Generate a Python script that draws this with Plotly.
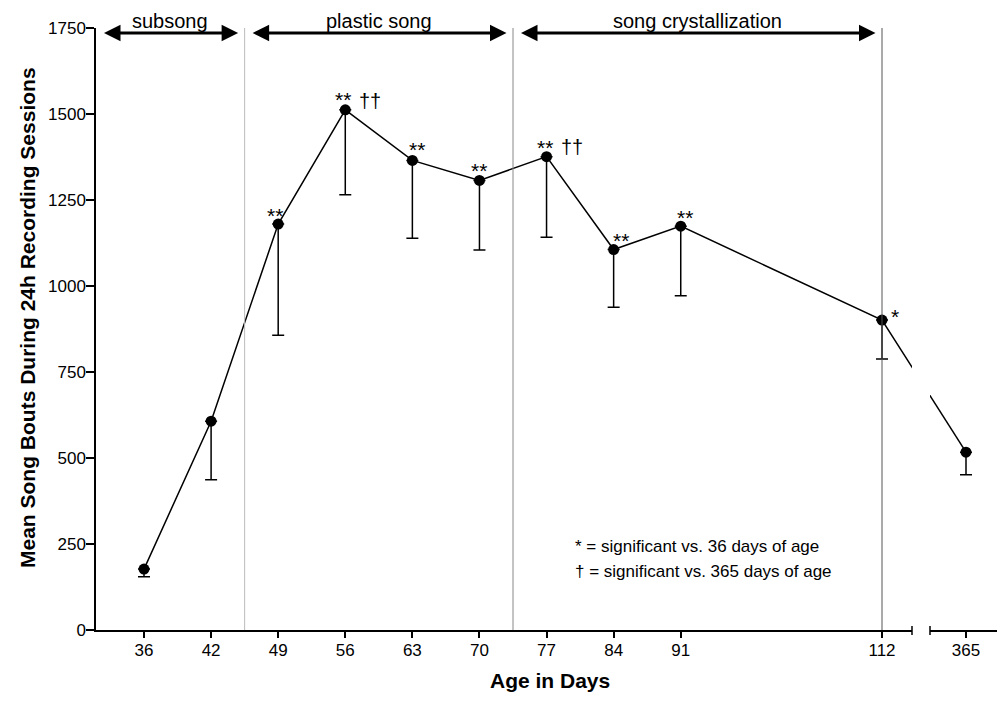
import plotly.graph_objects as go

# ---------------- data ----------------
age_days = ["36", "42", "49", "56", "63", "70", "77", "84", "91", "112", "365"]
age_weeks = [5, 6, 7, 8, 9, 10, 11, 12, 13, 16, 52]
mean_bouts = [177, 607, 1180, 1512, 1365, 1307, 1376, 1106, 1174, 901, 517]
sem_bouts = [22, 170, 323, 247, 226, 202, 234, 168, 202, 113, 66]
sig_vs_36 = ["", "", "**", "**", "**", "**", "**", "**", "**", "*", ""]
sig_vs_365 = ["", "", "", "††", "", "", "††", "", "", "", ""]
phase_names = ["subsong", "plastic song", "song crystallization"]
phase_bounds = [6.5, 10.5, 16]          # weeks where phases end
y_ticks = [0, 250, 500, 750, 1000, 1250, 1500, 1750]

# ---------------- layout constants ----------------
PLOT_L, PLOT_T = 96, 28                  # plot area position on the page
PW, PH = 901, 602
ML, MR, MT, MB = PLOT_L, 0, PLOT_T, 73
W, H = ML + PW + MR, MT + PH + MB
X1_RANGE = [4.2845, 16.447]
X2_RANGE = [51.4634, 52.4621]
X1_DOM = [0, 0.90566]
X2_DOM = [0.92564, 1]
Y_RANGE = [0, 1750]
FONT = "Arial, Liberation Sans, sans-serif"

px_per_week = X1_DOM[1] * PW / (X1_RANGE[1] - X1_RANGE[0])
units_per_px = (Y_RANGE[1] - Y_RANGE[0]) / PH


def x2_to_x1(w):
    px = X2_DOM[0] * PW + (w - X2_RANGE[0]) * px_per_week
    return X1_RANGE[0] + px / px_per_week


def x1_to_x2(w):
    px = (w - X1_RANGE[0]) * px_per_week
    return X2_RANGE[0] + (px - X2_DOM[0] * PW) / px_per_week


def paper_x(page_x):
    return (page_x - PLOT_L) / PW


def paper_y(page_y):
    return (PLOT_T + PH - page_y) / PH


n1 = len(age_weeks) - 1
fig = go.Figure()

# connecting line, first panel (continues through the break, clipped)
fig.add_trace(go.Scatter(
    x=age_weeks[:n1] + [x2_to_x1(age_weeks[-1])], y=mean_bouts,
    mode="lines", line=dict(color="black", width=1.5),
    xaxis="x", yaxis="y", hoverinfo="skip", showlegend=False))
# connecting line, second panel
fig.add_trace(go.Scatter(
    x=[x1_to_x2(age_weeks[n1 - 1]), age_weeks[-1]], y=mean_bouts[n1 - 1:],
    mode="lines", line=dict(color="black", width=1.5),
    xaxis="x2", yaxis="y", hoverinfo="skip", showlegend=False))

err_style = dict(type="data", symmetric=False, color="black", thickness=1.5, width=6)
fig.add_trace(go.Scatter(
    x=age_weeks[:n1], y=mean_bouts[:n1], mode="markers",
    marker=dict(color="black", size=11),
    error_y=dict(array=[0] * n1, arrayminus=sem_bouts[:n1], **err_style),
    xaxis="x", yaxis="y", showlegend=False))
fig.add_trace(go.Scatter(
    x=age_weeks[n1:], y=mean_bouts[n1:], mode="markers",
    marker=dict(color="black", size=11),
    error_y=dict(array=[0], arrayminus=sem_bouts[n1:], **err_style),
    xaxis="x2", yaxis="y", showlegend=False))

shapes = []
annotations = []

# phase boundary lines
bound_colors = ["#bbbbbb", "#888888", "#555555"]
for b, c in zip(phase_bounds, bound_colors):
    shapes.append(dict(type="line", xref="x", yref="y domain", x0=b, x1=b, y0=0, y1=1,
                       line=dict(color=c, width=1)))

# phase arrows and labels
gap = 6.5 / px_per_week
arrow_y = Y_RANGE[1] - 5 * units_per_px
starts = [X1_RANGE[0]] + phase_bounds[:-1]
for name, s, e in zip(phase_names, starts, phase_bounds):
    a, b = s + gap, e - gap
    annotations.append(dict(
        x=b, y=arrow_y, ax=a, ay=arrow_y, xref="x", yref="y", axref="x", ayref="y",
        text="", showarrow=True, arrowhead=2, startarrowhead=2, arrowside="end+start",
        arrowwidth=3, arrowsize=1.1, startarrowsize=1.1, arrowcolor="black", standoff=0,
        startstandoff=0))
    annotations.append(dict(
        x=(a + b) / 2, y=paper_y(21), xref="x", yref="paper", text=name,
        showarrow=False, xanchor="center", yanchor="middle",
        font=dict(family=FONT, size=20, color="black")))

# significance marks
star_dx = [0, 0, -3, -2, 5, 0, -2, 7, 4, 13, 0]
star_dy = [0, 0, 13, 15, 15, 14, 14, 14, 13.5, 8, 0]
for i, (w, m, s) in enumerate(zip(age_weeks, mean_bouts, sig_vs_36)):
    if s:
        annotations.append(dict(
            x=w, y=m, xref="x", yref="y", text=s, showarrow=False,
            xanchor="center", yanchor="middle", xshift=star_dx[i], yshift=star_dy[i] - 4.5,
            font=dict(family=FONT, size=21, color="black")))
for i, (w, m, s) in enumerate(zip(age_weeks, mean_bouts, sig_vs_365)):
    if s:
        annotations.append(dict(
            x=w, y=m, xref="x", yref="y", text=s, showarrow=False,
            xanchor="center", yanchor="middle", xshift=star_dx[i] + 27, yshift=8 + 1.3,
            font=dict(family=FONT, size=20, color="black")))

# key
annotations.append(dict(x=paper_x(573), y=paper_y(546.8), xref="paper", yref="paper",
                        text="* = significant vs. 36 days of age", showarrow=False,
                        xanchor="left", yanchor="middle",
                        font=dict(family=FONT, size=17, color="black")))
annotations.append(dict(x=paper_x(573), y=paper_y(571.2), xref="paper", yref="paper",
                        text="† = significant vs. 365 days of age", showarrow=False,
                        xanchor="left", yanchor="middle",
                        font=dict(family=FONT, size=17, color="black")))

# axis titles
annotations.append(dict(x=paper_x(549.5), y=paper_y(680), xref="paper", yref="paper",
                        text="<b>Age in Days</b>", showarrow=False,
                        xanchor="center", yanchor="middle",
                        font=dict(family=FONT, size=21, color="black")))
annotations.append(dict(x=paper_x(27), y=paper_y(318), xref="paper", yref="paper",
                        text="<b>Mean Song Bouts During 24h Recording Sessions</b>",
                        showarrow=False, textangle=-90,
                        xanchor="center", yanchor="middle",
                        font=dict(family=FONT, size=21, color="black")))

# axis break caps
for xr, xv in (("x domain", 1), ("x2 domain", 0)):
    shapes.append(dict(type="line", xref=xr, yref="paper", x0=xv, x1=xv,
                       y0=-5 / PH, y1=4 / PH, line=dict(color="black", width=1.5)))

axis_common = dict(showgrid=False, zeroline=False, showline=True, linecolor="black",
                   linewidth=1.5, ticks="outside", tickwidth=1.5, tickcolor="black",
                   tickfont=dict(family=FONT, size=17, color="black"))

fig.update_layout(
    width=W, height=H, margin=dict(l=ML, r=MR, t=MT, b=MB),
    paper_bgcolor="white", plot_bgcolor="white",
    xaxis=dict(domain=X1_DOM, range=X1_RANGE, tickvals=age_weeks[:n1],
               ticktext=age_days[:n1], ticklen=6, anchor="y", ticklabelstandoff=-2,
               **axis_common),
    xaxis2=dict(domain=X2_DOM, range=X2_RANGE, tickvals=age_weeks[n1:],
                ticktext=age_days[n1:], ticklen=6, anchor="y", ticklabelstandoff=-2,
                **axis_common),
    yaxis=dict(range=Y_RANGE, tickvals=y_ticks, ticklen=8, anchor="x",
               ticklabelstandoff=-3, **axis_common),
    shapes=shapes, annotations=annotations, showlegend=False,
)

fig.write_html("out.html",
               config={"displayModeBar": False},
               post_script="document.body.style.margin='0';"
                           "document.body.style.overflow='hidden';")
